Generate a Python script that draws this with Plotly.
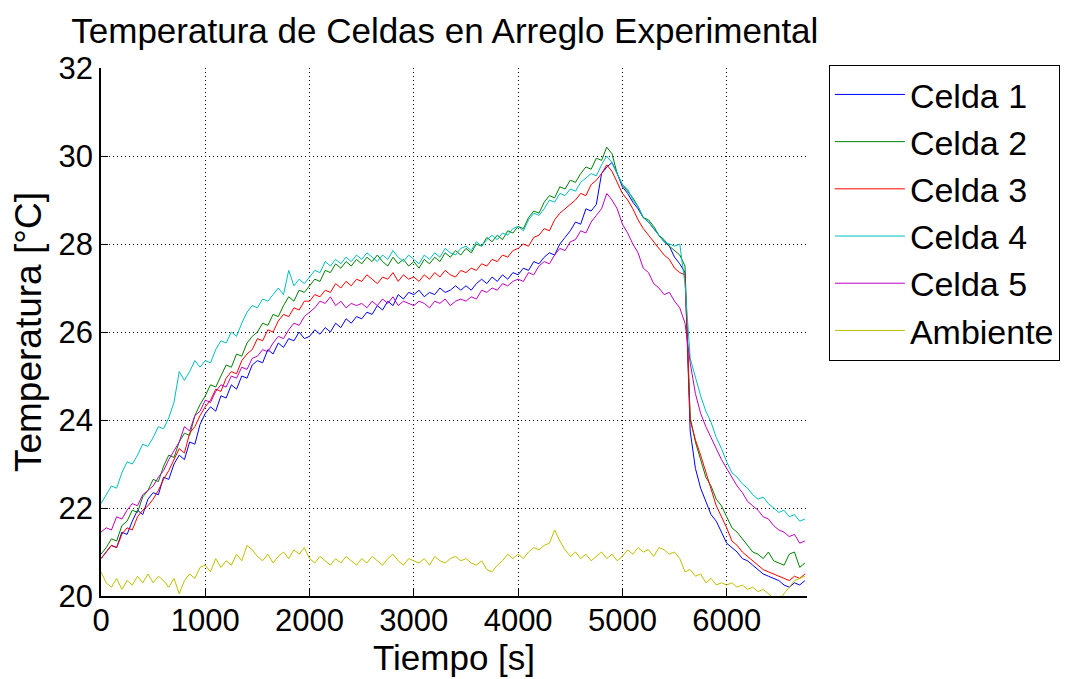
import plotly.graph_objects as go

# time axis (s)
time_s = list(range(0, 6751, 50))

celda1 = [
    20.85, 21.0, 21.15, 21.1, 21.45, 21.4, 21.7, 21.95, 21.85, 22.2,
    22.35, 22.3, 22.7, 22.65, 23.0, 23.2, 23.1, 23.5, 23.45, 23.9,
    24.15, 24.3, 24.2, 24.55, 24.5, 24.8, 24.7, 25.0, 24.95, 25.25,
    25.35, 25.3, 25.6, 25.5, 25.75, 25.65, 25.85, 25.8, 26.0, 25.85,
    25.9, 26.05, 25.95, 26.1, 26.0, 26.2, 26.1, 26.3, 26.2, 26.35,
    26.3, 26.45, 26.4, 26.6, 26.5, 26.7, 26.6, 26.85, 26.75, 26.9,
    26.85, 26.95, 26.8, 26.9, 26.85, 27.0, 26.9, 26.95, 27.05, 26.95,
    27.05, 26.95, 27.1, 27.2, 27.1, 27.25, 27.15, 27.3, 27.2, 27.35,
    27.3, 27.45, 27.4, 27.6, 27.55, 27.7, 27.8, 27.75, 28.0, 28.15,
    28.3, 28.5, 28.45, 28.8, 28.75, 28.9, 29.6, 29.75, 29.85, 29.6,
    29.3, 29.15, 28.95, 28.8, 28.6, 28.5, 28.35, 28.2, 28.05, 27.95,
    27.7, 27.55, 27.35, 23.75, 22.9, 22.45, 22.15, 21.85, 21.7, 21.45,
    21.2, 21.1, 21.0, 20.85, 20.8, 20.7, 20.6, 20.5, 20.45, 20.4,
    20.35, 20.25, 20.2, 20.3, 20.25, 20.35]

celda2 = [
    20.95, 21.1, 21.3, 21.25, 21.6, 21.7, 21.95, 21.9, 22.25, 22.4,
    22.65, 22.6, 22.95, 23.2, 23.15, 23.5, 23.7, 23.65, 24.1, 24.35,
    24.55, 24.8, 24.75, 25.0, 25.25, 25.2, 25.5, 25.45, 25.75, 25.9,
    26.0, 26.2, 26.15, 26.4, 26.35, 26.6, 26.8, 26.7, 26.95, 26.9,
    27.05, 27.2, 27.15, 27.4, 27.35, 27.55, 27.45, 27.6, 27.5, 27.65,
    27.55, 27.7, 27.6, 27.75, 27.6, 27.5, 27.7, 27.55, 27.65, 27.5,
    27.6, 27.45, 27.65, 27.55, 27.7, 27.6, 27.8, 27.7, 27.85, 27.75,
    27.9, 27.8, 28.0, 27.95, 28.15, 28.05, 28.2, 28.1, 28.3, 28.25,
    28.4, 28.35, 28.6, 28.75, 28.7, 28.95, 29.1, 29.05, 29.3, 29.25,
    29.45, 29.4, 29.6, 29.75, 29.7, 29.95, 29.9, 30.2, 30.05, 29.6,
    29.35, 29.2, 29.05, 28.85, 28.6, 28.55, 28.4, 28.2, 28.1, 27.95,
    27.85, 27.75, 27.5, 24.05, 23.5, 23.1, 22.7, 22.5, 22.2, 22.05,
    21.8, 21.55, 21.45, 21.3, 21.15, 21.0, 20.95, 20.85, 21.0, 20.8,
    20.75, 20.7, 20.95, 21.0, 20.65, 20.75]

celda3 = [
    20.85, 21.0, 21.15, 21.1, 21.4, 21.55, 21.5, 21.8, 21.95, 22.05,
    22.2, 22.4, 22.65, 22.85, 23.1, 23.35, 23.25, 23.7, 23.85, 24.1,
    24.3, 24.45, 24.7, 24.65, 24.95, 25.1, 25.05, 25.35, 25.5, 25.6,
    25.85, 25.8, 26.05, 26.0, 26.25, 26.4, 26.35, 26.55, 26.5, 26.7,
    26.7, 26.85, 26.8, 26.95, 26.9, 27.1, 27.0, 27.15, 27.05, 27.2,
    27.15, 27.3, 27.2, 27.1, 27.25, 27.2, 27.35, 27.15, 27.3, 27.2,
    27.25, 27.15, 27.3, 27.2, 27.35, 27.25, 27.4, 27.3, 27.25, 27.4,
    27.35, 27.45, 27.4, 27.55, 27.5, 27.65, 27.6, 27.75, 27.7, 27.85,
    27.9, 28.0, 27.95, 28.15, 28.2, 28.35, 28.3, 28.55, 28.7, 28.8,
    28.9, 29.0, 29.15, 29.1, 29.35, 29.45, 29.6, 29.8, 29.65, 29.4,
    29.15, 29.0, 28.8, 28.55, 28.35, 28.2, 28.05, 27.9, 27.75, 27.65,
    27.45, 27.35, 27.3, 24.0, 23.55, 23.2, 22.8, 22.4, 22.05, 21.8,
    21.55, 21.25, 21.15, 21.0, 20.9, 20.8, 20.7, 20.6, 20.55, 20.5,
    20.45, 20.4, 20.35, 20.45, 20.4, 20.5]

celda4 = [
    22.1, 22.3, 22.5, 22.45, 22.8, 23.05, 23.0, 23.2, 23.45, 23.4,
    23.6, 23.85, 23.8, 24.05, 24.4, 25.1, 24.9, 25.1, 25.35, 25.2,
    25.35, 25.3, 25.6, 25.8, 25.75, 26.0, 25.9, 26.2, 26.45, 26.6,
    26.55, 26.75, 26.7, 26.85, 27.0, 26.85, 27.4, 27.05, 27.2, 27.1,
    27.25, 27.4, 27.35, 27.6, 27.5, 27.65, 27.55, 27.7, 27.6, 27.75,
    27.65, 27.8, 27.7, 27.6, 27.75, 27.65, 27.85, 27.7, 27.6, 27.75,
    27.65, 27.55, 27.75, 27.65, 27.8, 27.7, 27.9, 27.8, 27.75, 27.9,
    27.95, 27.85, 28.05, 27.95, 28.1, 28.2, 28.1, 28.25, 28.2, 28.35,
    28.4, 28.3, 28.55, 28.7, 28.65, 28.8, 29.0, 28.95, 29.15, 29.1,
    29.25, 29.2, 29.4, 29.5, 29.6, 29.55, 29.8, 30.0, 29.85, 29.6,
    29.35, 29.25, 29.0, 28.85, 28.6, 28.5, 28.35, 28.2, 28.05, 28.0,
    27.95, 28.0, 27.1, 25.4, 24.95, 24.55, 24.2, 23.95, 23.6, 23.35,
    23.05, 22.8, 22.7, 22.55, 22.45, 22.3, 22.2, 22.25, 22.1, 22.0,
    21.9, 21.95, 21.8, 21.85, 21.7, 21.75]

celda5 = [
    21.45, 21.55, 21.5, 21.8, 21.75, 21.95, 22.1, 22.05, 22.3, 22.4,
    22.5, 22.7, 22.85, 23.1, 23.3, 23.5, 23.85, 23.75, 24.1, 24.2,
    24.45, 24.4, 24.65, 24.8, 24.75, 25.0, 24.95, 25.2, 25.15, 25.4,
    25.45, 25.6, 25.55, 25.75, 25.9, 25.85, 26.05, 26.2, 26.15, 26.35,
    26.45, 26.55, 26.7, 26.65, 26.8, 26.6, 26.7, 26.55, 26.65, 26.6,
    26.65, 26.55, 26.7, 26.6, 26.75, 26.65, 26.8, 26.6, 26.7, 26.65,
    26.6, 26.7, 26.65, 26.55, 26.7, 26.65, 26.75, 26.6, 26.7, 26.75,
    26.7, 26.8, 26.75, 26.95, 26.9, 27.0, 26.95, 27.1, 27.05, 27.15,
    27.2, 27.15, 27.35, 27.3, 27.5, 27.6, 27.55, 27.75, 27.9, 27.85,
    28.05, 28.1, 28.3, 28.25, 28.5, 28.65, 28.8, 29.15, 29.0, 28.8,
    28.45, 28.25, 28.0, 27.8, 27.45, 27.35, 27.1, 27.0, 26.85, 26.9,
    26.7, 26.55, 26.2, 25.3, 24.6, 24.15, 23.85, 23.6, 23.35, 23.1,
    22.9, 22.7, 22.5, 22.35, 22.15, 22.05, 21.95, 21.8, 21.75, 21.6,
    21.5, 21.45, 21.35, 21.4, 21.2, 21.25]

ambiente = [
    20.55, 20.3, 20.2, 20.4, 20.15, 20.35, 20.25, 20.45, 20.3, 20.5,
    20.3, 20.45, 20.35, 20.2, 20.4, 20.05, 20.35, 20.5, 20.4, 20.65,
    20.7, 20.55, 20.85, 20.65, 20.8, 20.7, 20.95, 20.8, 21.15, 21.05,
    20.9, 20.8, 20.95, 20.75, 20.9, 21.0, 20.85, 21.05, 20.95, 21.1,
    20.85, 20.75, 20.9, 20.8, 20.7, 20.85, 20.75, 20.9, 20.8, 20.7,
    20.85, 20.75, 20.9, 20.8, 20.7, 20.85, 20.95, 20.8, 20.7, 20.85,
    20.8, 20.75, 20.85, 20.7, 20.9, 20.8, 20.75, 20.85, 20.9, 20.8,
    20.85, 20.75, 20.7, 20.8, 20.6, 20.55, 20.7, 20.8, 20.95, 20.85,
    20.95, 20.85, 21.0, 21.1, 21.05, 21.15, 21.2, 21.5, 21.25, 21.05,
    20.9, 21.0, 20.85, 20.95, 20.8, 20.9, 21.0, 20.85, 20.95, 20.8,
    20.9, 21.05, 20.95, 21.1, 21.0, 21.05, 20.9, 21.1, 21.05, 20.95,
    21.0, 20.85, 20.55, 20.6, 20.45, 20.5, 20.3, 20.4, 20.25, 20.3,
    20.25, 20.3, 20.2, 20.25, 20.15, 20.2, 20.1, 20.15, 20.05, 19.95,
    19.9, 20.05, 20.2, 20.35, 20.4, 20.45]

series_names = ["Celda 1", "Celda 2", "Celda 3", "Celda 4", "Celda 5", "Ambiente"]
series_values = [celda1, celda2, celda3, celda4, celda5, ambiente]
series_colors = ["#0000ff", "#008000", "#ff0000", "#00bfbf", "#bf00bf", "#bfbf00"]

x_ticks = [0, 1000, 2000, 3000, 4000, 5000, 6000]
y_ticks = [20, 22, 24, 26, 28, 30, 32]

for v in series_values:
    assert len(v) == len(time_s), len(v)

FONT = "Liberation Sans, Arial, Helvetica, sans-serif"

fig = go.Figure()
for name, vals, col in zip(series_names, series_values, series_colors):
    fig.add_trace(go.Scatter(x=time_s, y=vals, name=name, mode="lines",
                             line=dict(color=col, width=1)))

axis_common = dict(
    showline=True, linecolor="black", linewidth=1.5, mirror=False,
    ticks="inside", ticklen=7, tickwidth=1, tickcolor="black",
    showgrid=True, gridcolor="black", gridwidth=1, griddash="1px,3px",
    zeroline=False,
)

fig.update_layout(
    width=1065, height=679,
    paper_bgcolor="white", plot_bgcolor="white",
    margin=dict(l=101, r=258, t=68, b=83, autoexpand=False),
    title=dict(text="Temperatura de Celdas en Arreglo Experimental",
               xref="paper", x=0.487, xanchor="center",
               yref="container", y=1 - 31 / 679, yanchor="middle",
               font=dict(family=FONT, size=35, color="black")),
    xaxis=dict(range=[0, 6770], tickvals=x_ticks,
               tickfont=dict(family=FONT, size=31, color="black"),
               ticklabelstandoff=-4,
               title=dict(text="Tiempo [s]", standoff=2,
                          font=dict(family=FONT, size=35, color="black")),
               **axis_common),
    yaxis=dict(range=[20, 32], tickvals=y_ticks,
               tickfont=dict(family=FONT, size=31, color="black"),
               title=dict(text="Temperatura [°C]", standoff=6,
                          font=dict(family=FONT, size=37, color="black")),
               **axis_common),
    legend=dict(x=1.031, y=1.006, xanchor="left", yanchor="top",
                bgcolor="white", bordercolor="black", borderwidth=1,
                font=dict(family=FONT, size=34, color="black"),
                itemwidth=70, tracegroupgap=0),
    showlegend=True,
)

fig.write_html("out.html")
